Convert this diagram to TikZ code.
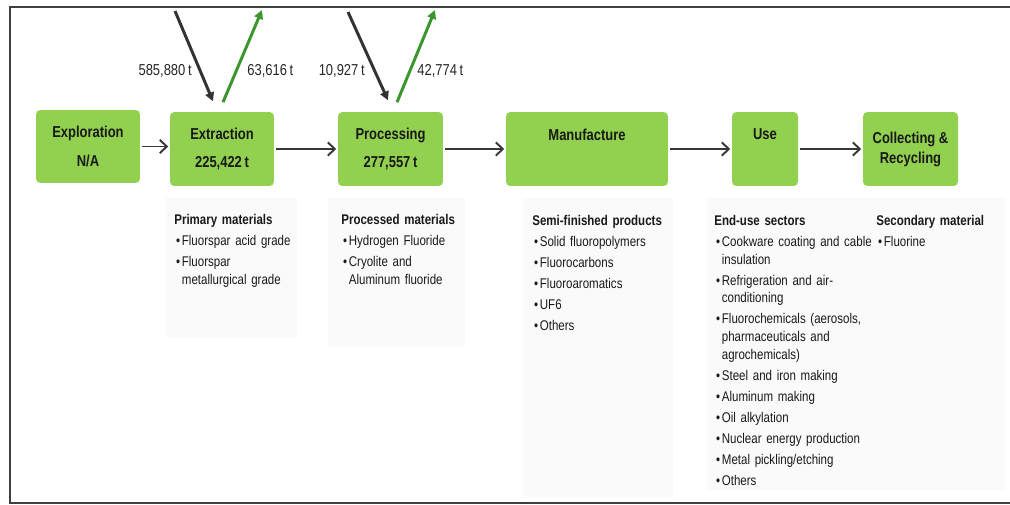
\documentclass[tikz,border=0pt]{standalone}
\usepackage{fontspec}
\setmainfont{Liberation Sans}[FakeStretch=0.82]
\usetikzlibrary{arrows.meta}

\definecolor{stagegreen}{RGB}{146,208,80}
\definecolor{outgreen}{RGB}{60,150,45}
\definecolor{flowgray}{RGB}{55,55,55}
\definecolor{panelgray}{RGB}{250,250,250}

% one bullet line of a list, wrapped lines hang under the text
\newcommand{\fitem}[1]{\par\vskip2pt\setbox0\hbox{\kern1pt•\kern1pt}\hangindent=\wd0\hangafter=1\noindent\box0 #1\par}

\begin{document}
\begin{tikzpicture}[x=0.02cm, y=-0.02cm,
    stage/.style={fill=stagegreen, rounded corners=2.5pt, inner sep=0pt, outer sep=1pt,
      align=center, text=black!90, font=\fontsize{9}{11.4}\selectfont\bfseries},
    flow/.style={draw=flowgray, line width=1.1pt, -{Straight Barb[length=4pt,width=7.5pt]}},
    inarrow/.style={draw=black!80, line width=1.7pt, -{Triangle[length=5pt,width=5pt]}},
    outarrow/.style={draw=outgreen, line width=1.7pt, -{Triangle[length=5pt,width=5pt]}},
    amount/.style={inner sep=0pt, text=black!85, font=\fontsize{9}{11}\selectfont},
    listtext/.style={anchor=north west, inner sep=0pt, text width=4cm, align=left,
      text=black!90, font=\fontsize{8}{10}\selectfont}]
    \useasboundingbox (0,0) rectangle (1010,504);

    % Frame
    \draw[black!75, line width=1.1pt] (1010,7) -- (10,7) -- (10,503) -- (1010,503);

    % Light panels behind the lists
    \fill[panelgray] (165,198) rectangle (297,337);
    \fill[panelgray] (328,198) rectangle (465,347);
    \fill[panelgray] (522,198) rectangle (673,497);
    \fill[panelgray] (707,198) rectangle (1005,490);

    % Stages
    \node[stage, minimum width=2.08cm, minimum height=1.46cm] (expl) at (88,146.5) {Exploration\\[5pt]N/A};
    \node[stage, minimum width=2.08cm, minimum height=1.48cm] (extr) at (222,149) {Extraction\\[5pt]225,422\,t};
    \node[stage, minimum width=2.1cm, minimum height=1.48cm] (proc) at (390.5,149) {Processing\\[5pt]277,557\,t};
    \node[stage, minimum width=3.24cm, minimum height=1.48cm] (manu) at (587,149) {Manufacture\\[5pt]\phantom{0}};
    \node[stage, minimum width=1.32cm, minimum height=1.48cm] (use) at (765,149) {Use\\[5pt]\phantom{0}};
    \node[stage, minimum width=1.9cm, minimum height=1.48cm] (recy) at (910.5,149) {Collecting \&\\Recycling};

    % Flow between stages
    \draw[flow] (expl.east) -- (expl.east -| extr.west);
    \draw[flow] (extr) -- (proc);
    \draw[flow] (proc) -- (manu);
    \draw[flow] (manu) -- (use);
    \draw[flow] (use) -- (recy);

    % Imports and exports
    \coordinate (extrsrc) at (175,11);
    \coordinate (extrsink) at (262,10);
    \coordinate (procsrc) at (348,12);
    \coordinate (procsink) at (435,10);
    \draw[inarrow] (extrsrc) -- ([shift={(-9,-9)}]extr.north);
    \draw[outarrow] ([shift={(1,-8)}]extr.north) -- (extrsink);
    \draw[inarrow] (procsrc) -- ([shift={(-2.5,-10)}]proc.north);
    \draw[outarrow] ([shift={(6.5,-8)}]proc.north) -- (procsink);
    \node[amount, anchor=east] (extrinval) at (192,71) {585,880\,t};
    \node[amount, anchor=west] (extroutval) at (247,71) {63,616\,t};
    \node[amount, anchor=east] (procinval) at (365,71) {10,927\,t};
    \node[amount, anchor=west] (procoutval) at (417,71) {42,774\,t};

    % Lists
    \node[listtext] (primlist) at (174,214) {\textbf{Primary materials}
      \fitem{Fluorspar acid grade}
      \fitem{Fluorspar\newline metallurgical grade}};
    \node[listtext] (proclist) at (341,214) {\textbf{Processed materials}
      \fitem{Hydrogen Fluoride}
      \fitem{Cryolite and\newline Aluminum fluoride}};
    \node[listtext] (manulist) at (532,215) {\textbf{Semi-finished products}
      \fitem{Solid fluoropolymers}
      \fitem{Fluorocarbons}
      \fitem{Fluoroaromatics}
      \fitem{UF6}
      \fitem{Others}};
    \node[listtext] (uselist) at (714,215) {\textbf{End-use sectors}
      \fitem{Cookware coating and cable\newline insulation}
      \fitem{Refrigeration and air-\newline conditioning}
      \fitem{Fluorochemicals (aerosols,\newline pharmaceuticals and\newline agrochemicals)}
      \fitem{Steel and iron making}
      \fitem{Aluminum making}
      \fitem{Oil alkylation}
      \fitem{Nuclear energy production}
      \fitem{Metal pickling/etching}
      \fitem{Others}};
    \node[listtext, text width=2.4cm] (recylist) at (876,215) {\textbf{Secondary material}
      \fitem{Fluorine}};
\end{tikzpicture}
\end{document}
